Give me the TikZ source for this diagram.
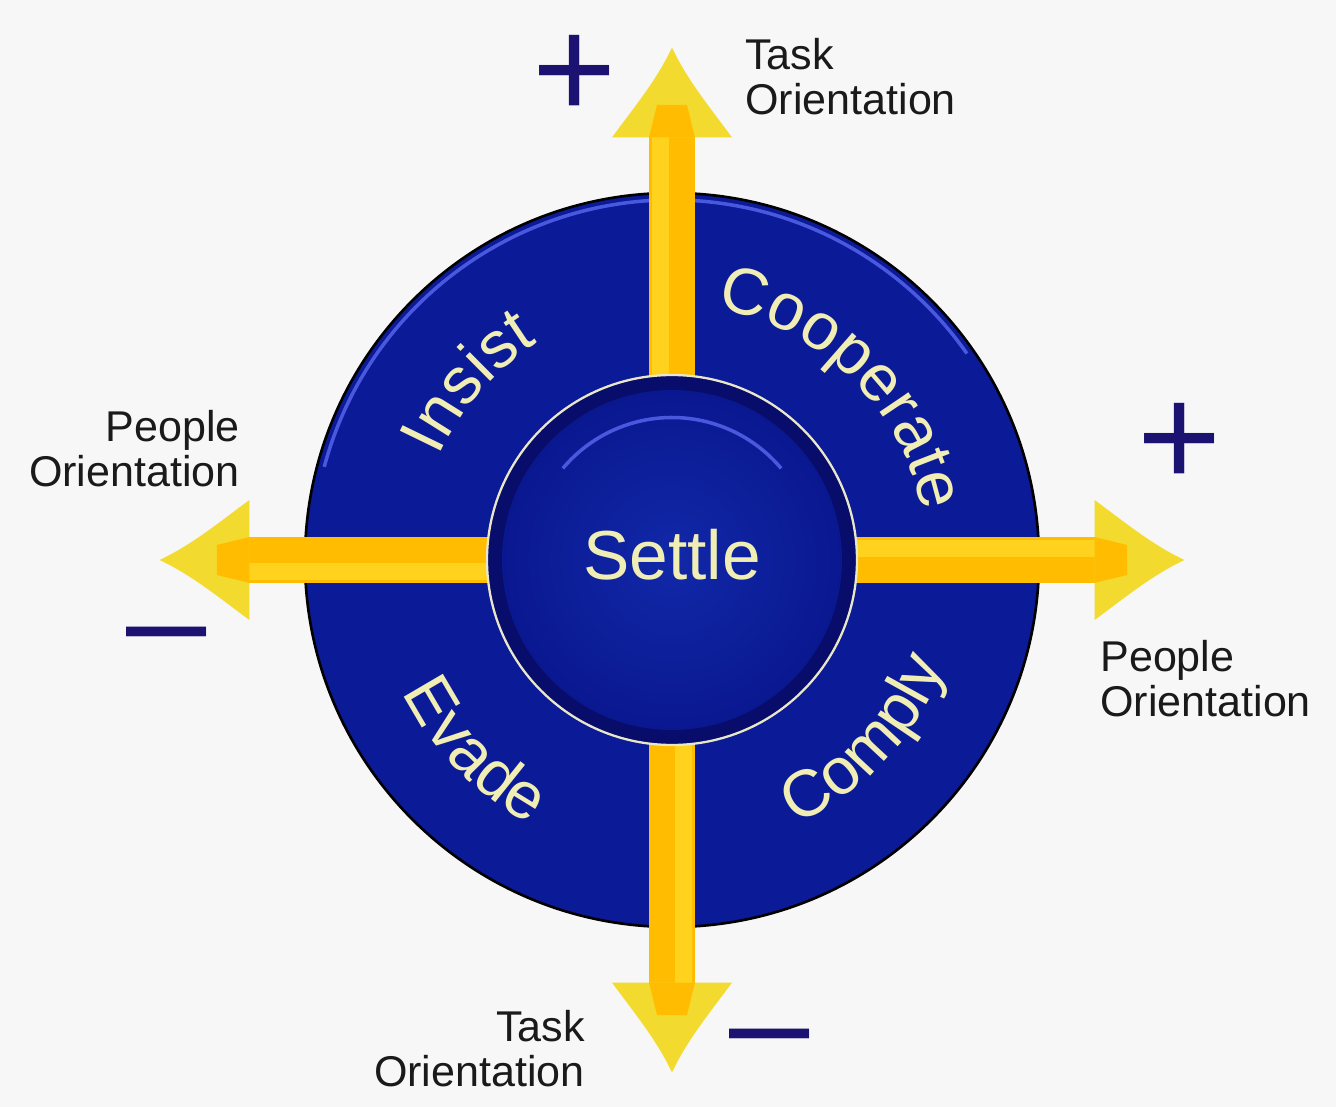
\documentclass[tikz,border=0pt]{standalone}
\usepackage{fontspec}
\setmainfont{Liberation Sans}
\usetikzlibrary{decorations.text}

\definecolor{bgcol}{HTML}{F7F7F7}
\definecolor{diskcol}{HTML}{0B1A97}
\definecolor{rimcol}{HTML}{4A58E0}
\definecolor{ringcol}{HTML}{080C6A}
\definecolor{buttonin}{HTML}{1128A8}
\definecolor{buttonout}{HTML}{0A1890}
\definecolor{ringline}{HTML}{E8E8C8}
\definecolor{wordcol}{HTML}{F0EEB4}
\definecolor{arrowcol}{HTML}{FFBC00}
\definecolor{arrowlight}{HTML}{FFD21E}
\definecolor{headcol}{HTML}{F2DA2E}
\definecolor{signcol}{HTML}{1B1272}
\definecolor{labelcol}{HTML}{1A1A1A}

\newcommand{\labelfont}{\fontsize{24.5}{25.8}\selectfont}
\newcommand{\wordfont}{\fontsize{37.5}{40}\selectfont}
\newcommand{\signfont}{\fontsize{82}{82}\selectfont}

\tikzset{
  orient/.style={font=\labelfont, inner sep=0pt, text=labelcol},
  sign/.style={font=\signfont, inner sep=0pt, text=signcol},
  arcword/.style={decorate, decoration={text along path, text align=center,
      text color=wordcol, text={|\wordfont|#1}}},
}

\begin{document}
\begin{tikzpicture}
  \useasboundingbox (-13.44,-10.94) rectangle (13.28,11.2);
  \fill[bgcol] (-13.44,-10.94) rectangle (13.28,11.2);

  % outer disk
  \fill[diskcol] (0,0) circle[radius=7.34];
  \draw[rimcol, line width=2pt] (165:7.2) arc[start angle=165, end angle=35, radius=7.2];
  \draw[black, line width=1.5pt] (0,0) circle[radius=7.34];

  % four arrows
  \foreach \ang in {0,90,180,270} {
    \begin{scope}[rotate=\ang]
      \fill[arrowcol] (3.6,-0.46) rectangle (8.55,0.46);
      \fill[arrowlight] (3.6,0.06) rectangle (8.55,0.4);
      \fill[headcol] (8.45,1.2) .. controls (9.0,0.8) and (9.6,0.3) .. (10.25,0)
        .. controls (9.6,-0.3) and (9.0,-0.8) .. (8.45,-1.2) -- cycle;
      \fill[arrowcol] (8.45,0.46) -- (9.1,0.3) -- (9.1,-0.3) -- (8.45,-0.46) -- cycle;
    \end{scope}
  }

  % centre
  \fill[ringcol] (0,0) circle[radius=3.7];
  \shade[inner color=buttonin, outer color=buttonout] (0,0) circle[radius=3.4];
  \draw[rimcol, line width=2pt] (40:2.85) arc[start angle=40, end angle=140, radius=2.85];
  \draw[ringline, line width=1.3pt] (0,0) circle[radius=3.7];
  \node[font=\fontsize{39.5}{42}\selectfont, text=wordcol] (settle) at (0,0.1) {Settle};

  % words round the ring
  \path[arcword=Insist] (178.9:5.1) arc[start angle=178.9, end angle=98.9, radius=5.1];
  \path[arcword=Cooperate] (85.5:5.1) arc[start angle=85.5, end angle=5.5, radius=5.1];
  \path[arcword=Evade] (184:6.0) arc[start angle=184, end angle=264, radius=6.0];
  \path[arcword=Comply] (277:5.85) arc[start angle=277, end angle=357, radius=5.85];

  % axis labels
  \node[orient, anchor=north west, align=left] (taskTop) at (1.46,10.44) {Task\\Orientation};
  \node[orient, anchor=north east, align=right] (peopleLeft) at (-8.64,3.0) {People\\Orientation};
  \node[orient, anchor=north west, align=left] (peopleRight) at (8.56,-1.6) {People\\Orientation};
  \node[orient, anchor=north east, align=right] (taskBottom) at (-1.74,-9.0) {Task\\Orientation};

  \node[sign] (taskPlus) at (-1.94,9.66) {+};
  \node[sign] (peoplePlus) at (10.16,2.3) {+};
  \node[sign] (peopleMinus) at (-10.1,-1.76) {–};
  \node[sign] (taskMinus) at (1.96,-9.8) {–};
\end{tikzpicture}
\end{document}
